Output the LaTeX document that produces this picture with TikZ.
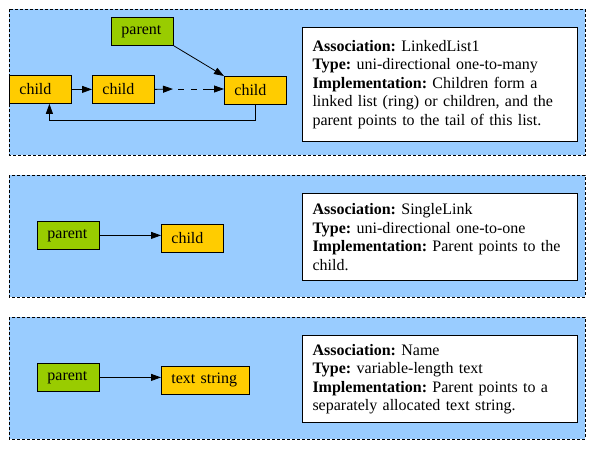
\documentclass[tikz,border=0pt]{standalone}
\usepackage{fontspec}
\setmainfont{Liberation Serif}
\usetikzlibrary{arrows.meta,calc}
\definecolor{panelblue}{HTML}{99CCFF}
\definecolor{pgreen}{HTML}{99CC00}
\definecolor{cyellow}{HTML}{FFCC00}
\frenchspacing
\begin{document}
\begin{tikzpicture}[x=1pt,y=-1pt,
  panel/.style={draw=black, fill=panelblue, line width=1pt, dash pattern=on 3pt off 2pt},
  box/.style={draw=black, line width=0.8pt, anchor=north west, inner xsep=10pt, inner ysep=0pt,
    minimum height=28pt, align=left, text width=42pt, font=\fontsize{16}{18.5}\selectfont},
  childbox/.style={box, fill=cyellow},
  parentbox/.style={box, fill=pgreen},
  info/.style={draw=black, fill=white, line width=1pt, anchor=north west, inner xsep=10pt,
    inner ysep=0pt, text width=255pt, align=left, font=\fontsize{16}{18.5}\selectfont\frenchspacing},
  arr/.style={-{Triangle[length=10pt,width=7pt]}, line width=0.8pt},
  plain/.style={line width=0.8pt}]
\useasboundingbox (0,0) rectangle (599,453);
\fill[white] (0,0) rectangle (599,453);
% panels
\path[panel] (9,9) rectangle (585,155);
\path[panel] (9,175) rectangle (585,297);
\path[panel] (9,317) rectangle (585,439);
% panel 1
\node[parentbox] (parent1) at (111,17) {parent};
\node[childbox] (child1) at (9,75) {child};
\node[childbox] (child2) at (92,75) {child};
\node[childbox] (child3) at (224,76) {child};
\coordinate (d1) at (173,89);
\coordinate (d2) at (178,89);
\coordinate (d3) at (197,89);
\coordinate (d4) at (203,89);
\draw[arr] (child1.east |- child2.west) -- (child2.west);
\draw[arr] (child2.east) -- (d1);
\draw[plain, dash pattern=on 6pt off 7pt] (d2) -- (d3);
\draw[arr] (d4) -- (d4 -| child3.west);
\draw[arr] (parent1.south east) -- (child3.north west);
\draw[arr] (child3.south) -- ++(0,16) -| ($(child1.south)+(9,0)$);
\node[info, minimum height=114pt] (info1) at (302,27) {%
\textbf{Association:} LinkedList1\\
\textbf{Type:} uni-directional one-to-many\\
\textbf{Implementation:} Children form a\\
linked list (ring) or children, and the\\
parent points to the tail of this list.};
% panel 2
\node[parentbox] (parent2) at (37,221) {parent};
\node[childbox] (child4) at (161,224) {child};
\draw[arr] (parent2.east) -- (parent2.east -| child4.west);
\node[info, minimum height=87pt] (info2) at (302,193) {%
\textbf{Association:} SingleLink\\
\textbf{Type:} uni-directional one-to-one\\
\textbf{Implementation:} Parent points to the\\
child.};
% panel 3
\node[parentbox] (parent3) at (37,363) {parent};
\node[childbox, text width=68pt] (text1) at (161,366) {text string};
\draw[arr] (parent3.east) -- (parent3.east -| text1.west);
\node[info, minimum height=87pt] (info3) at (302,335) {%
\textbf{Association:} Name\\
\textbf{Type:} variable-length text\\
\textbf{Implementation:} Parent points to a\\
separately allocated text string.};
\end{tikzpicture}
\end{document}
